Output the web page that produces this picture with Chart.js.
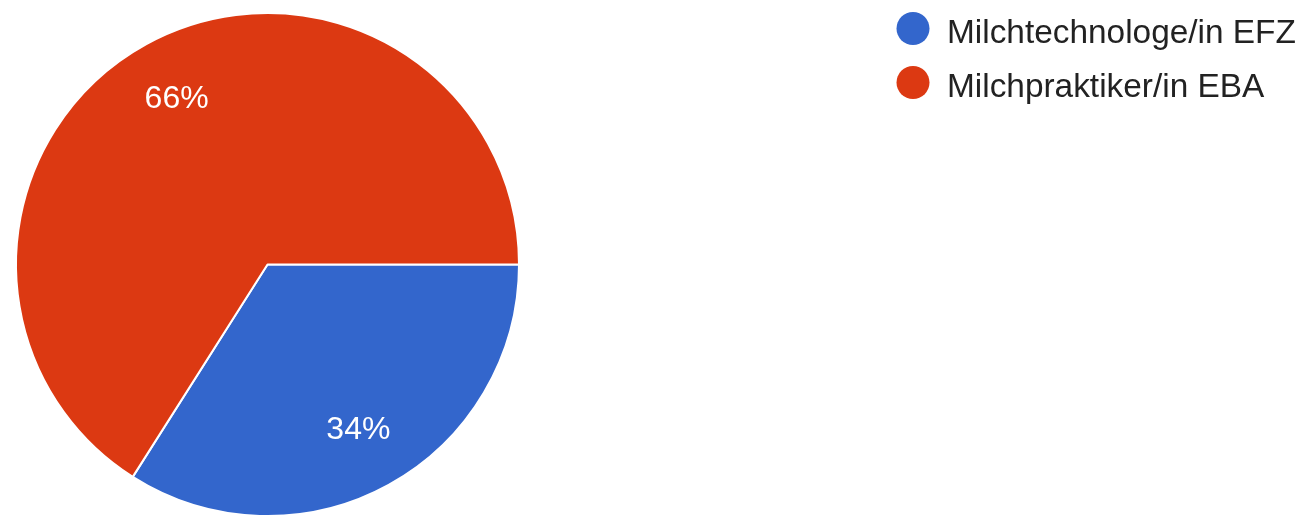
<!DOCTYPE html>
<html>
<head>
<meta charset="utf-8">
<script src="https://cdn.jsdelivr.net/npm/chart.js@4"></script>
<style>
  html, body { margin: 0; padding: 0; background: #ffffff; overflow: hidden; }
  #wrap { width: 1304px; height: 530px; }
</style>
</head>
<body>
<div id="wrap"><canvas id="c" width="1304" height="530"></canvas></div>
<script>
const categories = ["Milchtechnologe/in EFZ", "Milchpraktiker/in EBA"];
const shares = [34, 66];
const sliceColors = ["#3366cc", "#dc3912"];

const sliceLabels = {
  id: 'sliceLabels',
  afterDatasetsDraw(chart) {
    const ctx = chart.ctx;
    const meta = chart.getDatasetMeta(0);
    const data = chart.data.datasets[0].data;
    const total = data.reduce((a, b) => a + b, 0);
    ctx.save();
    ctx.fillStyle = '#ffffff';
    ctx.font = '32px "Liberation Sans", Arial, sans-serif';
    ctx.textAlign = 'center';
    ctx.textBaseline = 'middle';
    meta.data.forEach((arc, i) => {
      const p = arc.getProps(['x', 'y', 'startAngle', 'endAngle', 'outerRadius'], true);
      const mid = (p.startAngle + p.endAngle) / 2;
      const r = p.outerRadius * 0.75;
      const txt = Math.round(data[i] / total * 100) + '%';
      ctx.fillText(txt, p.x + Math.cos(mid) * r, p.y + Math.sin(mid) * r);
    });
    ctx.restore();
  }
};

const customLegend = {
  id: 'customLegend',
  afterDraw(chart) {
    const ctx = chart.ctx;
    const labels = chart.data.labels;
    const colors = chart.data.datasets[0].backgroundColor;
    ctx.save();
    labels.forEach((lab, i) => {
      const cy = 28.5 + i * 54;
      ctx.beginPath();
      ctx.fillStyle = colors[i];
      ctx.arc(913, cy, 16.5, 0, Math.PI * 2);
      ctx.fill();
      ctx.fillStyle = '#222222';
      ctx.font = '33.4px "Liberation Sans", Arial, sans-serif';
      ctx.textAlign = 'left';
      ctx.textBaseline = 'alphabetic';
      ctx.fillText(lab, 947, cy + 14.5);
    });
    ctx.restore();
  }
};

new Chart(document.getElementById('c'), {
  type: 'pie',
  data: {
    labels: categories,
    datasets: [{
      data: shares,
      backgroundColor: sliceColors,
      borderColor: '#ffffff',
      borderWidth: 2
    }]
  },
  options: {
    responsive: false,
    animation: false,
    rotation: 90,
    layout: { padding: { left: 15, right: 784, top: 12, bottom: 13 } },
    plugins: {
      legend: { display: false },
      tooltip: { enabled: false }
    }
  },
  plugins: [sliceLabels, customLegend]
});
</script>
</body>
</html>
